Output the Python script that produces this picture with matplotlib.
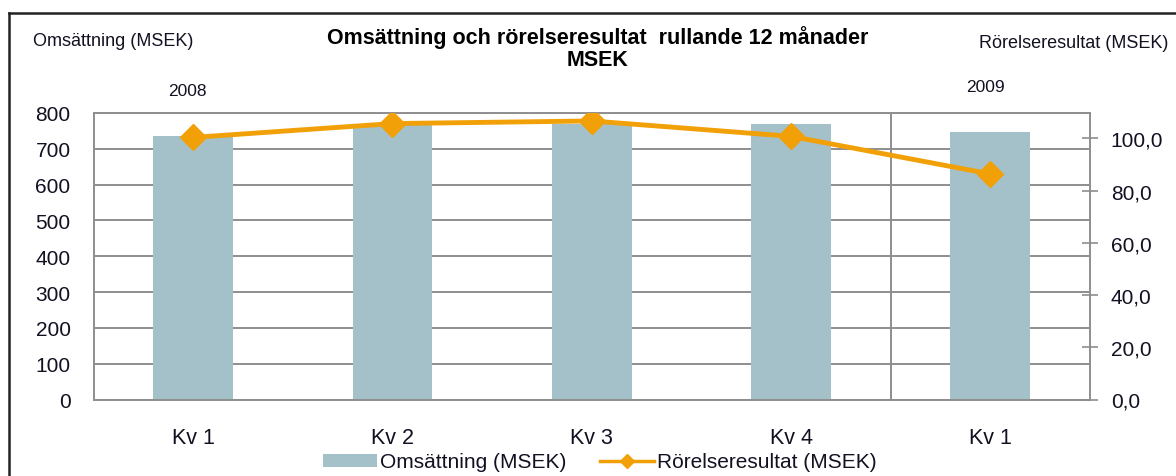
import matplotlib
matplotlib.use("Agg")
import matplotlib.pyplot as plt
from matplotlib.lines import Line2D
from matplotlib.patches import Patch

categories = ["Kv 1", "Kv 2", "Kv 3", "Kv 4", "Kv 1"]
omsattning = [737, 766, 768, 770, 746]
rorelseresultat = [100.4, 105.7, 106.7, 100.8, 86.4]
left_ticks = [0, 100, 200, 300, 400, 500, 600, 700, 800]
right_ticks = [0, 20, 40, 60, 80, 100]
right_ticklabels = ["0,0", "20,0", "40,0", "60,0", "80,0", "100,0"]

plt.rcParams['font.family'] = ['Liberation Sans', 'DejaVu Sans']
W, H = 1176, 477
fig = plt.figure(figsize=(W / 100, H / 100), dpi=100)
ax = fig.add_axes([93.5 / W, 1 - 400.5 / H, (1090 - 93.5) / W, (400.5 - 114) / H])

bar_color = '#A4C1CA'
line_color = '#F2A007'
grid_color = '#8E8E8E'
text_color = '#111122'

x = list(range(len(categories)))
ax.bar(x, omsattning, width=0.40, color=bar_color, zorder=2)
ax.set_xlim(-0.5, len(categories) - 0.5)
ax.set_ylim(0, 800)
ax.set_yticks(left_ticks)
ax.set_yticklabels([str(t) for t in left_ticks], fontsize=15, color=text_color)
ax.set_xticks(x)
ax.set_xticklabels(categories, fontsize=15.5, color=text_color)
ax.tick_params(axis='y', length=0, pad=16.5)
ax.tick_params(axis='x', length=0, pad=20)
ax.grid(axis='y', color=grid_color, linewidth=1.4, zorder=1)
for s in ax.spines.values():
    s.set_color(grid_color)
    s.set_linewidth(1.4)
ax.axvline(3.5, color=grid_color, linewidth=1.4, zorder=1)

ax2 = ax.twinx()
ax2.plot(x, rorelseresultat, color=line_color, linewidth=3.5, marker='D',
         markersize=13, zorder=5)
ax2.set_ylim(0, 109.75)
ax2.set_yticks(right_ticks)
ax2.set_yticklabels(right_ticklabels, fontsize=15, color=text_color)
ax2.tick_params(axis='y', direction='inout', length=12, width=1.2, color=grid_color, pad=9)
for s in ax2.spines.values():
    s.set_visible(False)
ax.set_zorder(1)
ax2.set_zorder(2)
ax2.patch.set_visible(False)

fig.text(598 / W, 1 - 38 / H, "Omsättning och rörelseresultat  rullande 12 månader",
         ha='center', va='center', fontsize=15.5, fontweight='bold', color='#000000')
fig.text(598 / W, 1 - 61 / H, "MSEK", ha='center', va='center', fontsize=15.5,
         fontweight='bold', color='#000000')
fig.text(33 / W, 1 - 41 / H, "Omsättning (MSEK)", ha='left', va='center',
         fontsize=13, color=text_color)
fig.text(1168 / W, 1 - 44 / H, "Rörelseresultat (MSEK)", ha='right', va='center',
         fontsize=13, color=text_color)
fig.text(187 / W, 1 - 91 / H, "2008", ha='center', va='center', fontsize=12.5, color=text_color)
fig.text(985 / W, 1 - 88 / H, "2009", ha='center', va='center', fontsize=12.5, color=text_color)

handles = [Patch(facecolor=bar_color, edgecolor='none'),
           Line2D([0], [0], color=line_color, linewidth=2.5, marker='D', markersize=7)]
fig.legend(handles, ["Omsättning (MSEK)", "Rörelseresultat (MSEK)"],
           loc='center', bbox_to_anchor=(600 / W, 1 - 463 / H), ncol=2, frameon=False,
           fontsize=15, handlelength=2.6, handletextpad=0.15, columnspacing=1.6,
           labelcolor=text_color, handleheight=0.6)

# outer frame
fig.add_artist(Line2D([9 / W, 1.0], [1 - 14 / H, 1 - 14 / H], color='#222222', linewidth=1.8))
fig.add_artist(Line2D([9 / W, 9 / W], [1 - 14 / H, 0], color='#222222', linewidth=1.8))

fig.savefig("out.png", dpi=100)
